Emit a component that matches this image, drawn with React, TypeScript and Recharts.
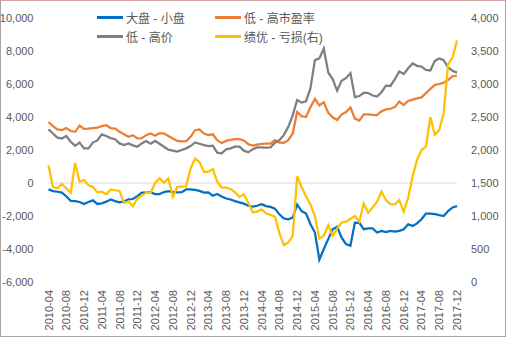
import React from "react";
import {
  LineChart,
  Line,
  XAxis,
  YAxis,
  ReferenceLine,
  Legend,
} from "recharts";

const months = [
  "2010-04", "2010-05", "2010-06", "2010-07", "2010-08", "2010-09", "2010-10", "2010-11", "2010-12",
  "2011-01", "2011-02", "2011-03", "2011-04", "2011-05", "2011-06", "2011-07", "2011-08", "2011-09", "2011-10", "2011-11", "2011-12",
  "2012-01", "2012-02", "2012-03", "2012-04", "2012-05", "2012-06", "2012-07", "2012-08", "2012-09", "2012-10", "2012-11", "2012-12",
  "2013-01", "2013-02", "2013-03", "2013-04", "2013-05", "2013-06", "2013-07", "2013-08", "2013-09", "2013-10", "2013-11", "2013-12",
  "2014-01", "2014-02", "2014-03", "2014-04", "2014-05", "2014-06", "2014-07", "2014-08", "2014-09", "2014-10", "2014-11", "2014-12",
  "2015-01", "2015-02", "2015-03", "2015-04", "2015-05", "2015-06", "2015-07", "2015-08", "2015-09", "2015-10", "2015-11", "2015-12",
  "2016-01", "2016-02", "2016-03", "2016-04", "2016-05", "2016-06", "2016-07", "2016-08", "2016-09", "2016-10", "2016-11", "2016-12",
  "2017-01", "2017-02", "2017-03", "2017-04", "2017-05", "2017-06", "2017-07", "2017-08", "2017-09", "2017-10", "2017-11", "2017-12",
];

// 大盘 - 小盘
const bigSmall = [
  -380, -490, -530, -580, -800, -1090, -1100, -1150, -1270, -1150, -1050, -1270, -1230, -1130, -1000, -1100,
  -1170, -1120, -990, -970, -800, -580, -590, -570, -670, -670, -550, -500, -560, -570, -560, -390,
  -390, -420, -480, -580, -570, -770, -670, -820, -940, -1000, -1100, -1170, -1250, -1380, -1430, -1380,
  -1280, -1400, -1450, -1550, -1900, -2150, -2200, -2100, -1300, -1700, -1850, -2500, -3000, -4650, -4000, -3400,
  -2800, -2650, -3300, -3700, -3800, -2400, -2420, -2800, -2750, -2750, -3000, -2900, -2980, -2900, -2950, -2900,
  -2800, -2500, -2600, -2450, -2200, -1850, -1850, -1880, -1950, -2000, -1700, -1480, -1400,
];

// 低 - 高市盈率
const lowHighPE = [
  3700, 3450, 3250, 3200, 3330, 3150, 3100, 3480, 3280, 3300, 3330, 3350, 3450, 3500, 3330, 3300,
  3100, 2950, 2800, 2900, 2700, 2720, 2900, 3000, 2870, 3020, 3000, 2850, 2700, 2550, 2520, 2530,
  2800, 3200, 3250, 3000, 2900, 2950, 2600, 2420, 2550, 2620, 2660, 2660, 2580, 2350, 2270, 2330,
  2370, 2380, 2380, 2600, 2450, 2440, 2600, 3000, 4300, 4050, 4000, 4600, 5100, 4700, 4900, 4250,
  3980, 3820, 4150, 4300, 4580, 3900, 3780, 4160, 4160, 4130, 4120, 4350, 4460, 4500, 4600, 4930,
  4730, 4970, 5050, 5130, 5190, 5450, 5700, 5950, 6000, 6080, 6240, 6480, 6500,
];

// 低 - 高价
const lowHighPrice = [
  3250, 3000, 2750, 2700, 2850, 2500, 2250, 2450, 2100, 2100, 2450, 2580, 2950, 2850, 2720, 2650,
  2400, 2300, 2400, 2280, 2200, 2400, 2540, 2380, 2550, 2380, 2200, 2020, 1960, 1900, 2000, 2100,
  2240, 2460, 2380, 2300, 2240, 2260, 1840, 1800, 2040, 2100, 2200, 2200, 1960, 1860, 2050, 2160,
  2160, 2140, 2160, 2440, 2600, 2900, 3400, 4100, 5030, 4870, 4950, 5750, 7450, 7550, 8150, 6700,
  6300, 5600, 6200, 6350, 6650, 5200, 5270, 5470, 5450, 5300, 5240, 5500, 5900, 5880, 6300, 6750,
  6600, 6950, 7250, 7100, 7050, 6850, 6820, 7400, 7550, 7450, 7000, 6800, 6690,
];

// 绩优 - 亏损(右)
const goodLoss = [
  1770, 1440, 1420, 1485, 1420, 1350, 1800, 1520, 1545, 1470, 1440, 1360, 1370, 1330, 1400, 1390,
  1380, 1200, 1220, 1150, 1260, 1310, 1350, 1350, 1500, 1570, 1505, 1570, 1290, 1440, 1445, 1450,
  1720, 1870, 1820, 1670, 1670, 1710, 1520, 1430, 1430, 1410, 1360, 1290, 1330, 1200, 1056, 1065,
  1100, 1040, 1015, 990, 740, 560, 600, 700, 1600, 1440, 1300, 1170, 1000, 660, 700, 860,
  700, 810, 900, 915, 955, 1000, 914, 1190, 1050, 1130, 1217, 1370, 1240, 1180, 1177, 1240,
  1065, 1277, 1600, 1850, 2000, 2050, 2500, 2230, 2300, 2560, 3300, 3400, 3660,
];

const leftTicks = [-6000, -4000, -2000, 0, 2000, 4000, 6000, 8000, 10000];
const rightTicks = [0, 500, 1000, 1500, 2000, 2500, 3000, 3500, 4000];

const data = months.map((m, i) => ({
  month: m,
  bigSmall: bigSmall[i],
  lowHighPE: lowHighPE[i],
  lowHighPrice: lowHighPrice[i],
  goodLoss: goodLoss[i],
}));

const series = [
  { key: "bigSmall", name: "大盘 - 小盘", color: "#0070C0", axis: "left" },
  { key: "lowHighPE", name: "低 - 高市盈率", color: "#ED7D31", axis: "left" },
  { key: "lowHighPrice", name: "低 - 高价", color: "#7F7F7F", axis: "left" },
  { key: "goodLoss", name: "绩优 - 亏损(右)", color: "#FFC000", axis: "right" },
];

const FONT = '"Liberation Sans", "Noto Sans CJK SC", sans-serif';
const fmt = (v: number) => v.toLocaleString("en-US");

const XTick = (props: any) => {
  const { x, y, payload } = props;
  return (
    <text
      x={x}
      y={y}
      transform={`rotate(-90, ${x}, ${y})`}
      textAnchor="end"
      dominantBaseline="central"
      fontSize={11}
      fontFamily={FONT}
      fill="#595959"
    >
      {payload.value}
    </text>
  );
};

const LegendBox = () => (
  <div
    style={{
      display: "grid",
      gridTemplateColumns: "118px 140px",
      rowGap: 2,
      fontFamily: FONT,
      fontSize: 12,
      color: "#595959",
    }}
  >
    {series.map((s) => (
      <div key={s.key} style={{ display: "flex", alignItems: "center", height: 17 }}>
        <span
          style={{
            display: "inline-block",
            width: 26,
            height: 3,
            background: s.color,
            marginRight: 3,
          }}
        />
        <span>{s.name}</span>
      </div>
    ))}
  </div>
);

export default function App() {
  return (
    <div
      style={{
        position: "absolute",
        left: 0,
        top: 0,
        width: 506,
        height: 337,
        background: "#fff",
      }}
    >
      <LineChart
        width={506}
        height={337}
        data={data}
        margin={{ top: 18, right: 0, left: 0, bottom: 0 }}
      >
        <XAxis
          dataKey="month"
          interval={3}
          axisLine={false}
          tickLine={false}
          height={55}
          tick={<XTick />}
        />
        <YAxis
          yAxisId="left"
          domain={[-6000, 10000]}
          ticks={leftTicks}
          width={48.5}
          axisLine={false}
          tickLine={false}
          tickSize={6}
          tickMargin={9}
          tickFormatter={fmt}
          tick={{ fontSize: 11, fontFamily: FONT, fill: "#595959" }}
        />
        <YAxis
          yAxisId="right"
          orientation="right"
          domain={[0, 4000]}
          ticks={rightTicks}
          width={49}
          axisLine={false}
          tickLine={false}
          tickSize={6}
          tickMargin={8}
          tickFormatter={fmt}
          tick={{ fontSize: 11, fontFamily: FONT, fill: "#595959", textAnchor: "start" }}
        />
        <ReferenceLine yAxisId="left" y={0} stroke="#D9D9D9" strokeWidth={1} />
        <Legend
          layout="vertical"
          align="center"
          verticalAlign="middle"
          content={<LegendBox />}
          wrapperStyle={{ top: 9, left: 97, width: 260 }}
        />
        {series.map((s) => (
          <Line
            key={s.key}
            yAxisId={s.axis}
            type="linear"
            dataKey={s.key}
            name={s.name}
            stroke={s.color}
            strokeWidth={2.25}
            dot={false}
            activeDot={false}
            isAnimationActive={false}
          />
        ))}
      </LineChart>
      <div
        style={{
          position: "absolute",
          inset: 0,
          border: "1px solid #A6A6A6",
          borderTopColor: "#D9A3A3",
          pointerEvents: "none",
        }}
      />
    </div>
  );
}
